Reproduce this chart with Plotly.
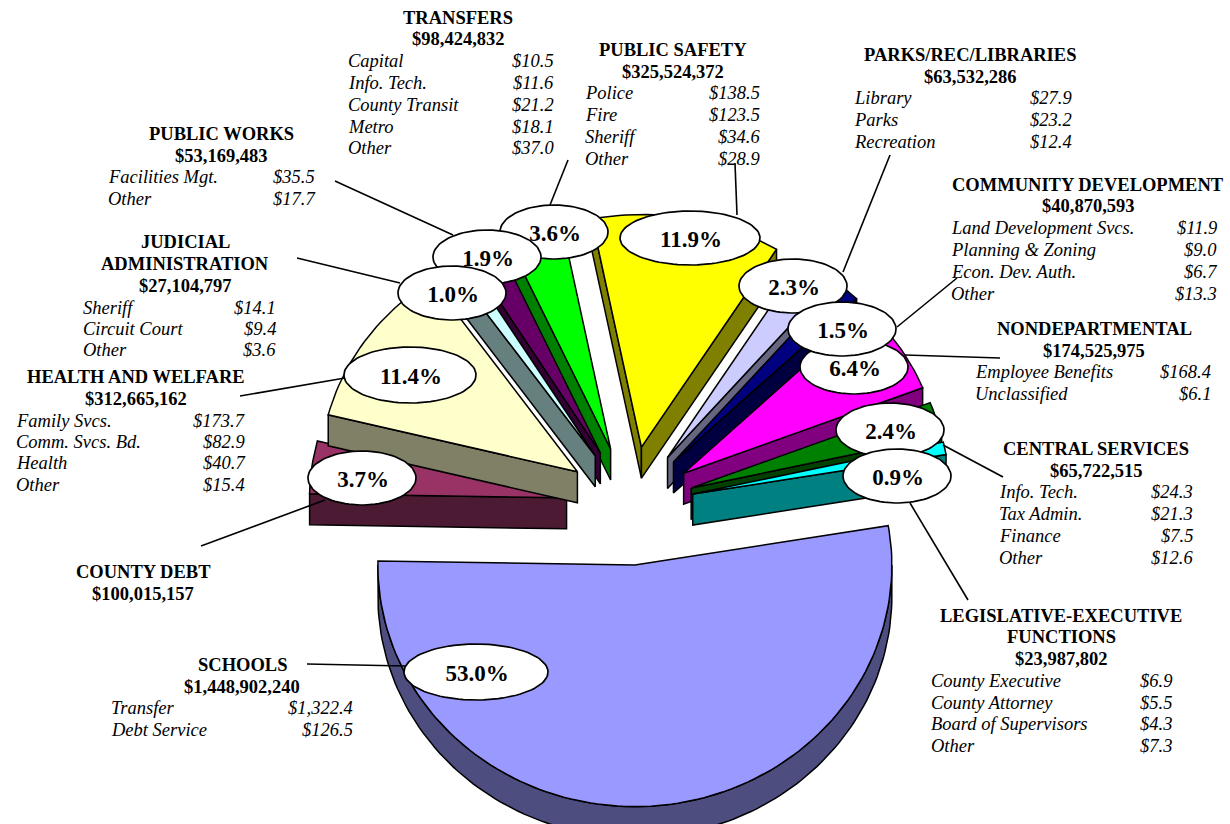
import math
import plotly.graph_objects as go

# ---- data ----
categories = ["COUNTY DEBT", "HEALTH AND WELFARE", "JUDICIAL ADMINISTRATION", "PUBLIC WORKS",
              "TRANSFERS", "PUBLIC SAFETY", "PARKS/REC/LIBRARIES", "COMMUNITY DEVELOPMENT",
              "NONDEPARTMENTAL", "CENTRAL SERVICES", "LEGISLATIVE-EXECUTIVE FUNCTIONS", "SCHOOLS"]
amounts = [100015157, 312665162, 27104797, 53169483, 98424832, 325524372, 63532286,
           40870593, 174525975, 65722515, 23987802, 1448902240]
debt_items, debt_values = [], []
health_items = ["Family Svcs.", "Comm. Svcs. Bd.", "Health", "Other"]
health_values = [173.7, 82.9, 40.7, 15.4]
judicial_items = ["Sheriff", "Circuit Court", "Other"]
judicial_values = [14.1, 9.4, 3.6]
works_items = ["Facilities Mgt.", "Other"]
works_values = [35.5, 17.7]
transfers_items = ["Capital", "Info. Tech.", "County Transit", "Metro", "Other"]
transfers_values = [10.5, 11.6, 21.2, 18.1, 37.0]
safety_items = ["Police", "Fire", "Sheriff", "Other"]
safety_values = [138.5, 123.5, 34.6, 28.9]
parks_items = ["Library", "Parks", "Recreation"]
parks_values = [27.9, 23.2, 12.4]
community_items = ["Land Development Svcs.", "Planning & Zoning", "Econ. Dev. Auth.", "Other"]
community_values = [11.9, 9.0, 6.7, 13.3]
nondept_items = ["Employee Benefits", "Unclassified"]
nondept_values = [168.4, 6.1]
central_items = ["Info. Tech.", "Tax Admin.", "Finance", "Other"]
central_values = [24.3, 21.3, 7.5, 12.6]
legis_items = ["County Executive", "County Attorney", "Board of Supervisors", "Other"]
legis_values = [6.9, 5.5, 4.3, 7.3]
schools_items = ["Transfer", "Debt Service"]
schools_values = [1322.4, 126.5]

items = [debt_items, health_items, judicial_items, works_items, transfers_items, safety_items,
         parks_items, community_items, nondept_items, central_items, legis_items, schools_items]
item_values = [debt_values, health_values, judicial_values, works_values, transfers_values,
               safety_values, parks_values, community_values, nondept_values, central_values,
               legis_values, schools_values]

# ---- style / layout ----
top_colors = ["#993366", "#FFFFCC", "#CCFFFF", "#660066", "#00FF00", "#FFFF00",
              "#CCCCFF", "#000080", "#FF00FF", "#008000", "#00FFFF", "#9999FF"]
side_colors = ["#4D1A33", "#808066", "#668080", "#330033", "#008000", "#808000",
               "#666680", "#000040", "#800080", "#004000", "#008080", "#4D4D80"]
CX, CY, R, K, EXPLODE, DEPTH, START = 630, 505.7, 257, 0.93, 64, 31, 271.0
K_BACK, K_FRONT = 0.905, 0.94
draw_order = [0, 1, 5, 4, 3, 2, 6, 7, 8, 9, 10, 11]
SERIF = "Liberation Serif"
HEAD = 18.5
ITEM = 18.5

# heading lines, heading centre x, y of each heading line, row y, label x, value right x
blocks = {
    "COUNTY DEBT": (["COUNTY DEBT"], 143, [571, 593], [], 0, 0),
    "HEALTH AND WELFARE": (["HEALTH AND WELFARE"], 136, [376, 398], [420, 441, 462, 484], 16, 245),
    "JUDICIAL ADMINISTRATION": (["JUDICIAL", "ADMINISTRATION"], 185, [241, 263, 285], [307, 328, 349], 83, 276),
    "PUBLIC WORKS": (["PUBLIC WORKS"], 221, [133, 155], [176, 198], 108, 315),
    "TRANSFERS": (["TRANSFERS"], 458, [17, 38], [60, 82, 104, 126, 147], 348, 554),
    "PUBLIC SAFETY": (["PUBLIC SAFETY"], 673, [49, 71], [92, 114, 136, 158], 585, 760),
    "PARKS/REC/LIBRARIES": (["PARKS/REC/LIBRARIES"], 970, [54, 76], [97, 119, 141], 854, 1072),
    "COMMUNITY DEVELOPMENT": (["COMMUNITY DEVELOPMENT"], 1088, [184, 205], [227, 249, 271, 293], 951, 1217),
    "NONDEPARTMENTAL": (["NONDEPARTMENTAL"], 1094, [328, 350], [371, 393], 975, 1211),
    "CENTRAL SERVICES": (["CENTRAL SERVICES"], 1096, [448, 470], [491, 513, 535, 557], 999, 1193),
    "LEGISLATIVE-EXECUTIVE FUNCTIONS": (["LEGISLATIVE-EXECUTIVE", "FUNCTIONS"], 1061, [615, 636, 658], [680, 702, 723, 745], 931, 1172),
    "SCHOOLS": (["SCHOOLS"], 242, [664, 686], [707, 729], 111, 353),
}
# percent bubble: centre x, centre y, half width, half height (in drawing order)
bubbles = {
    "TRANSFERS": (554, 232, 54, 27), "PUBLIC WORKS": (487, 257, 54, 27),
    "JUDICIAL ADMINISTRATION": (452, 293, 54, 27), "HEALTH AND WELFARE": (410, 375, 66, 28),
    "COUNTY DEBT": (362, 478, 54, 27), "PUBLIC SAFETY": (690, 238, 70, 27),
    "PARKS/REC/LIBRARIES": (793, 286, 54, 27), "NONDEPARTMENTAL": (854, 367, 54, 27),
    "COMMUNITY DEVELOPMENT": (842, 329, 54, 27), "CENTRAL SERVICES": (890, 430, 54, 27),
    "LEGISLATIVE-EXECUTIVE FUNCTIONS": (897, 476, 54, 27), "SCHOOLS": (476, 672, 72, 28),
}
leaders = {
    "TRANSFERS": (568, 160, 550, 205), "PUBLIC SAFETY": (735, 163, 737, 215),
    "PARKS/REC/LIBRARIES": (890, 155, 843, 272), "COMMUNITY DEVELOPMENT": (957, 278, 897, 327),
    "NONDEPARTMENTAL": (905, 355, 1000, 358), "CENTRAL SERVICES": (1003, 477, 943, 445),
    "LEGISLATIVE-EXECUTIVE FUNCTIONS": (968, 600, 910, 503), "SCHOOLS": (307, 664, 405, 666),
    "COUNTY DEBT": (201, 546, 325, 500), "HEALTH AND WELFARE": (240, 396, 345, 378),
    "JUDICIAL ADMINISTRATION": (297, 258, 400, 283), "PUBLIC WORKS": (335, 181, 453, 235),
}

# ---- slices ----
total = sum(amounts)
spans, a = [], START
for v in amounts:
    spans.append((a, a + v / total * 360))
    a += v / total * 360


def direction(deg, k=None):
    r = math.radians(deg)
    c = math.cos(r)
    if k is None:
        k = K_BACK if c > 0 else K_FRONT
    return math.sin(r), -k * c


def arc(ax, ay, a0, a1, n):
    out = []
    for i in range(n + 1):
        dx, dy = direction(a0 + (a1 - a0) * i / n)
        out.append((ax + R * dx, ay + R * dy))
    return out


fig = go.Figure()


def poly(points, fill, name):
    xs = [p[0] for p in points] + [points[0][0]]
    ys = [p[1] for p in points] + [points[0][1]]
    fig.add_trace(go.Scatter(x=xs, y=ys, mode="lines", fill="toself", fillcolor=fill, name=name,
                             line=dict(color="black", width=1.5), hoverinfo="name", showlegend=False))


for i in draw_order:
    a0, a1 = spans[i]
    mx, my = direction((a0 + a1) / 2, K)
    ax, ay = CX + EXPLODE * mx, CY + EXPLODE * my
    n = max(4, int((a1 - a0) / 1.5))
    rim = arc(ax, ay, a0, a1, n)
    # side faces facing the viewer
    if math.sin(math.radians(a0)) < 0:
        p = rim[0]
        poly([(ax, ay), p, (p[0], p[1] + DEPTH), (ax, ay + DEPTH)], side_colors[i], categories[i])
    if math.sin(math.radians(a1)) > 0:
        p = rim[-1]
        poly([(ax, ay), p, (p[0], p[1] + DEPTH), (ax, ay + DEPTH)], side_colors[i], categories[i])
    # outer rim face: only where the rim runs along the lower half (90..270, +360 for later turns)
    for turn in (0, 360):
        lo, hi = max(a0, 90 + turn), min(a1, 270 + turn)
        if hi > lo:
            front = arc(ax, ay, lo, hi, 120)
            poly(front + [(x, y + DEPTH) for x, y in reversed(front)], side_colors[i], categories[i])
    poly([(ax, ay)] + rim, top_colors[i], categories[i])

# ---- leader lines ----
for name, (x0, y0, x1, y1) in leaders.items():
    fig.add_trace(go.Scatter(x=[x0, x1], y=[y0, y1], mode="lines", hoverinfo="skip", showlegend=False,
                             line=dict(color="black", width=1.6)))

# ---- percent bubbles (trace order keeps their overlaps) ----
for name, (bx, by, brx, bry) in bubbles.items():
    pts = [(bx + brx * math.cos(t * math.pi / 45), by + bry * math.sin(t * math.pi / 45)) for t in range(91)]
    fig.add_trace(go.Scatter(x=[p[0] for p in pts], y=[p[1] for p in pts], mode="lines", fill="toself",
                             fillcolor="white", line=dict(color="black", width=1.7),
                             hoverinfo="skip", showlegend=False))
    pct = amounts[categories.index(name)] / total * 100
    fig.add_trace(go.Scatter(x=[bx + 1], y=[by + 3], mode="text", text=[f"<b>{pct:.1f}%</b>"], textposition="middle center",
                             textfont=dict(family=SERIF, size=23, color="black"),
                             hoverinfo="skip", showlegend=False))


# ---- text blocks ----
def note(x, y, text, anchor, size):
    fig.add_annotation(x=x, y=y + 0.8, xref="x", yref="y", text=text, showarrow=False, xanchor=anchor, yanchor="middle",
                       font=dict(family=SERIF, size=size, color="black"), borderpad=0)


for i, name in enumerate(categories):
    heads, hx, hy, rows, lx, rx = blocks[name]
    for line, y in zip(heads + [f"${amounts[i]:,}"], hy):
        note(hx, y, f"<b>{line}</b>", "center", HEAD)
    for label, val, y in zip(items[i], item_values[i], rows):
        note(lx - 1.5, y, f"<i>{label}</i>", "left", ITEM)
        note(rx + 1, y, f"<i>${val:,.1f}</i>", "right", ITEM)

fig.update_layout(width=1230, height=824, margin=dict(l=0, r=0, t=0, b=0), showlegend=False,
                  paper_bgcolor="white", plot_bgcolor="white", hovermode="closest",
                  xaxis=dict(range=[0, 1230], visible=False, fixedrange=True),
                  yaxis=dict(range=[824, 0], visible=False, fixedrange=True))
fig.write_html("out.html", config={"displayModeBar": False},
               post_script="document.body.style.margin='0';document.body.style.overflow='hidden';")
